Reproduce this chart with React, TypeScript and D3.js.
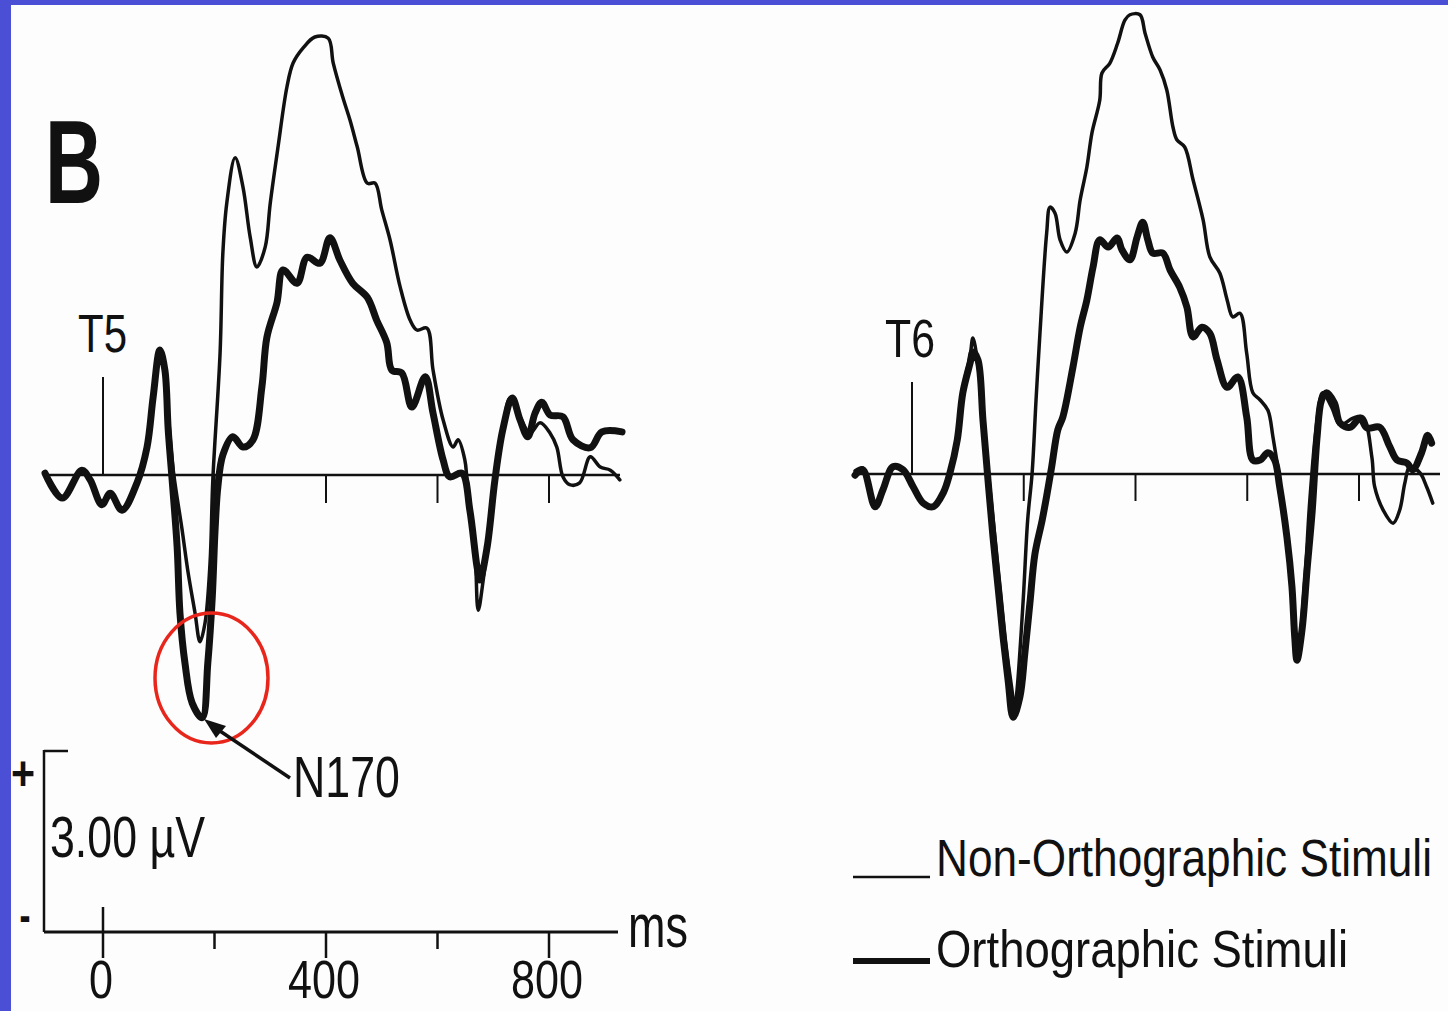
import React from "react";
import * as d3 from "d3";

type Pt = [number, number]; // [ms, µV]

// ---- T5 (left hemisphere) ----
const t5Ortho: Pt[] = [
  [-104, 0.03], [-73, -0.38], [-38, 0.08], [-23, -0.08], [-2, -0.49], [13, -0.3], [34, -0.58],
  [61, -0.13], [79, 0.46], [90, 1.29], [102, 2.06], [111, 1.73], [117, 0.74], [124, -0.08],
  [133, -1.19], [138, -2.27], [147, -3.1], [160, -3.76], [178, -4.0], [188, -3.1], [196, -2.01],
  [201, -0.91], [206, -0.2], [215, 0.33], [233, 0.63], [251, 0.46], [269, 0.58], [285, 1.45],
  [294, 2.27], [312, 2.84], [323, 3.38], [348, 3.16], [366, 3.59], [389, 3.49], [407, 3.91],
  [425, 3.54], [448, 3.16], [474, 2.93], [491, 2.55], [509, 2.18], [518, 1.73], [536, 1.68],
  [554, 1.12], [578, 1.62], [592, 1.02], [610, 0.25], [622, -0.03], [644, 0.03], [658, -0.58],
  [671, -1.52], [676, -1.73], [689, -1.19], [703, -0.08], [717, 0.74], [734, 1.27], [748, 0.91],
  [762, 0.63], [775, 1.02], [787, 1.2], [802, 0.99], [825, 0.96], [843, 0.58], [874, 0.45],
  [895, 0.71], [931, 0.71],
];
const t5NonOrtho: Pt[] = [
  [-104, 0.03], [-73, -0.38], [-38, 0.08], [-23, -0.08], [-2, -0.45], [13, -0.3], [34, -0.55],
  [61, -0.13], [79, 0.46], [90, 1.29], [102, 2.06], [111, 1.73], [118, 0.9], [126, 0.08],
  [142, -0.91], [152, -1.57], [165, -2.27], [174, -2.75], [183, -2.44], [192, -1.45], [197, -0.08],
  [210, 2.01], [215, 3.66], [222, 4.48], [237, 5.23], [251, 4.75], [264, 3.92], [276, 3.43],
  [291, 3.76], [300, 4.48], [314, 5.41], [330, 6.4], [341, 6.79], [359, 7.04], [380, 7.22],
  [404, 7.2], [413, 6.79], [430, 6.23], [443, 5.85], [456, 5.41], [474, 4.81], [488, 4.81],
  [500, 4.37], [515, 3.87], [533, 3.1], [551, 2.55], [563, 2.39], [581, 2.42], [592, 1.73],
  [610, 0.91], [628, 0.46], [637, 0.58], [649, 0.25], [653, -0.08], [667, -1.19], [673, -2.23],
  [682, -1.73], [700, -0.2], [716, 0.63], [730, 1.27], [748, 0.96], [766, 0.69], [784, 0.86],
  [802, 0.69], [814, 0.46], [825, -0.03], [837, -0.16], [855, -0.13], [874, 0.3], [892, 0.13],
  [910, 0.08], [927, -0.08],
];

// ---- T6 (right hemisphere) ----
const t6Ortho: Pt[] = [
  [-102, -0.02], [-88, 0.07], [-66, -0.54], [-52, -0.26], [-34, 0.12], [-16, 0.07], [2, -0.21],
  [20, -0.48], [38, -0.54], [56, -0.31], [68, 0.02], [81, 0.56], [91, 1.34], [104, 1.83],
  [109, 2.01], [118, 1.88], [127, 0.89], [136, -0.1], [145, -1.04], [154, -1.86], [163, -2.69],
  [172, -3.4], [181, -4.01], [193, -3.68], [202, -2.95], [211, -2.13], [220, -1.32], [233, -0.76],
  [242, -0.31], [250, 0.12], [261, 0.73], [270, 0.94], [288, 1.76], [301, 2.42], [313, 2.87],
  [324, 3.41], [336, 3.86], [351, 3.74], [367, 3.89], [376, 3.69], [390, 3.53], [403, 3.91],
  [413, 4.15], [422, 3.86], [431, 3.64], [449, 3.64], [462, 3.36], [479, 3.08], [492, 2.75],
  [503, 2.26], [519, 2.42], [533, 2.32], [546, 1.88], [564, 1.43], [583, 1.6], [599, 0.94],
  [610, 0.23], [623, 0.23], [637, 0.35], [649, 0.23], [658, -0.21], [671, -1.04], [680, -1.86],
  [685, -2.69], [689, -3.07], [698, -2.57], [707, -1.58], [716, -0.64], [725, 0.61], [733, 1.22],
  [742, 1.34], [756, 1.17], [766, 0.84], [784, 0.77], [802, 0.92], [814, 0.76], [837, 0.77],
  [855, 0.45], [868, 0.23], [886, 0.18], [896, 0.07], [912, 0.35], [923, 0.64], [930, 0.51],
];
const t6NonOrtho: Pt[] = [
  [-102, 0.05], [-88, 0.1], [-66, -0.5], [-52, -0.22], [-34, 0.14], [-16, 0.05], [2, -0.23],
  [20, -0.48], [38, -0.52], [56, -0.3], [68, 0.04], [81, 0.6], [91, 1.4], [104, 1.95],
  [109, 2.24], [118, 1.8], [128, 0.9], [138, -0.1], [148, -1.0], [158, -1.9], [168, -2.8],
  [178, -3.5], [184, -3.85], [188, -3.56], [199, -2.08], [207, -0.76], [215, 0.02], [222, 1.22],
  [229, 2.32], [241, 3.97], [247, 4.4], [256, 4.3], [265, 3.86], [277, 3.66], [292, 3.97],
  [301, 4.52], [313, 5.06], [322, 5.62], [336, 6.16], [340, 6.61], [354, 6.77], [368, 7.1],
  [381, 7.48], [390, 7.57], [408, 7.57], [417, 7.27], [431, 6.87], [444, 6.66], [456, 6.33],
  [467, 5.72], [474, 5.51], [488, 5.39], [503, 4.85], [521, 4.19], [533, 3.58], [551, 3.31],
  [564, 2.87], [574, 2.59], [587, 2.65], [599, 1.99], [610, 1.34], [623, 1.22], [637, 1.05],
  [646, 0.61], [658, -0.1], [671, -1.09], [680, -1.99], [687, -2.9], [690, -3.0], [703, -1.75],
  [712, -0.43], [725, 0.89], [735, 1.34], [751, 1.1], [766, 0.81], [789, 0.92], [807, 0.94],
  [823, 0.28], [828, -0.21], [843, -0.59], [861, -0.81], [873, -0.59], [882, -0.15], [891, 0.12],
  [909, 0.02], [921, -0.21], [932, -0.48],
];

const baselineTicks = [200, 400, 600, 800];
const axisTicks = [0, 200, 400, 600, 800];
const axisLabels = [0, 400, 800];
const legendLabels = ["Non-Orthographic Stimuli", "Orthographic Stimuli"];

const FONT = "'Liberation Sans Narrow', 'Liberation Sans', Arial, sans-serif";

function T(props: { x: number; y: number; size: number; len?: number; anchor?: string; weight?: string; children: React.ReactNode }) {
  const { x, y, size, len, anchor, weight, children } = props;
  return (
    <text
      x={x}
      y={y}
      fontSize={size}
      fontFamily={FONT}
      fontWeight={weight || "normal"}
      textAnchor={anchor || "start"}
      fill="#111"
      {...(len ? { textLength: len, lengthAdjust: "spacingAndGlyphs" } : {})}
    >
      {children}
    </text>
  );
}

export default function App() {
  const W = 1448, H = 1011;
  const xL = d3.scaleLinear().domain([0, 800]).range([103, 549]);
  const yL = d3.scaleLinear().domain([0, 3]).range([475, 293]);
  const xR = d3.scaleLinear().domain([0, 800]).range([912, 1359]);
  const yR = d3.scaleLinear().domain([0, 3]).range([474, 292]);

  const mk = (x: d3.ScaleLinear<number, number>, y: d3.ScaleLinear<number, number>) =>
    d3.line<Pt>().x((d) => x(d[0])).y((d) => y(d[1])).curve(d3.curveCatmullRom.alpha(0.5));
  const lineL = mk(xL, yL);
  const lineR = mk(xR, yR);

  const axisY = 932;

  return (
    <svg width={W} height={H} style={{ position: "absolute", left: 0, top: 0, background: "#fdfdfd" }}>
      <rect x={0} y={0} width={W} height={H} fill="#fdfdfd" />
      {/* blue frame */}
      <rect x={0} y={0} width={W} height={5} fill="#4a4fd6" />
      <rect x={0} y={0} width={11} height={H} fill="#4a4fd6" />

      <T x={45} y={203} size={118} weight="bold" len={58}>B</T>

      {/* ---- left panel T5 ---- */}
      <line x1={45} x2={620} y1={yL(0)} y2={yL(0)} stroke="#111" strokeWidth={2.5} />
      <line x1={xL(0)} x2={xL(0)} y1={377} y2={yL(0)} stroke="#111" strokeWidth={2} />
      {baselineTicks.map((t) => (
        <line key={t} x1={xL(t)} x2={xL(t)} y1={yL(0)} y2={yL(0) + 28} stroke="#111" strokeWidth={2} />
      ))}
      <T x={78} y={352} size={54} len={49}>T5</T>
      <path d={lineL(t5NonOrtho) || ""} fill="none" stroke="#111" strokeWidth={3.5} strokeLinejoin="round" strokeLinecap="round" />
      <path d={lineL(t5Ortho) || ""} fill="none" stroke="#111" strokeWidth={7} strokeLinejoin="round" strokeLinecap="round" />

      {/* N170 annotation */}
      <ellipse cx={211.5} cy={678} rx={56.5} ry={65} fill="none" stroke="#e8261c" strokeWidth={3.5} />
      <line x1={290} x2={214} y1={778} y2={727} stroke="#111" strokeWidth={3.5} />
      <path d="M204,719 L226,726 L216,738 Z" fill="#111" />
      <T x={293} y={797} size={58} len={107}>N170</T>

      {/* calibration + bottom axis */}
      <line x1={44} x2={44} y1={750} y2={axisY} stroke="#111" strokeWidth={2.5} />
      <line x1={44} x2={68} y1={751} y2={751} stroke="#111" strokeWidth={2.5} />
      <T x={23} y={790} size={48} anchor="middle" weight="bold" len={24}>+</T>
      <T x={25} y={932} size={48} anchor="middle" weight="bold" len={11}>-</T>
      <T x={50} y={857} size={58} len={155}>3.00 µV</T>
      <line x1={44} x2={618} y1={axisY} y2={axisY} stroke="#111" strokeWidth={3} />
      {axisTicks.map((t) => (
        <line
          key={t}
          x1={xL(t)}
          x2={xL(t)}
          y1={t === 0 ? 907 : axisY}
          y2={t % 400 === 0 ? 958 : 949}
          stroke="#111"
          strokeWidth={2.5}
        />
      ))}
      {axisLabels.map((t) => (
        <T key={t} x={xL(t) - 2} y={998} size={54} anchor="middle" len={String(t).length * 24}>
          {String(t)}
        </T>
      ))}
      <T x={628} y={947} size={62} len={60}>ms</T>

      {/* ---- right panel T6 ---- */}
      <line x1={853} x2={1440} y1={yR(0)} y2={yR(0)} stroke="#111" strokeWidth={2.5} />
      <line x1={xR(0)} x2={xR(0)} y1={382} y2={yR(0)} stroke="#111" strokeWidth={2} />
      {baselineTicks.map((t) => (
        <line key={t} x1={xR(t)} x2={xR(t)} y1={yR(0)} y2={yR(0) + 27} stroke="#111" strokeWidth={2} />
      ))}
      <T x={885} y={357} size={54} len={50}>T6</T>
      <path d={lineR(t6NonOrtho) || ""} fill="none" stroke="#111" strokeWidth={3.5} strokeLinejoin="round" strokeLinecap="round" />
      <path d={lineR(t6Ortho) || ""} fill="none" stroke="#111" strokeWidth={7} strokeLinejoin="round" strokeLinecap="round" />

      {/* legend */}
      <line x1={853} x2={930} y1={877} y2={877} stroke="#111" strokeWidth={2.5} />
      <g transform="translate(936,876) scale(0.8,1)">
        <T x={0} y={0} size={52} len={620}>{legendLabels[0]}</T>
      </g>
      <line x1={853} x2={930} y1={961} y2={961} stroke="#111" strokeWidth={6} />
      <T x={936} y={967} size={52} len={412}>{legendLabels[1]}</T>
    </svg>
  );
}
